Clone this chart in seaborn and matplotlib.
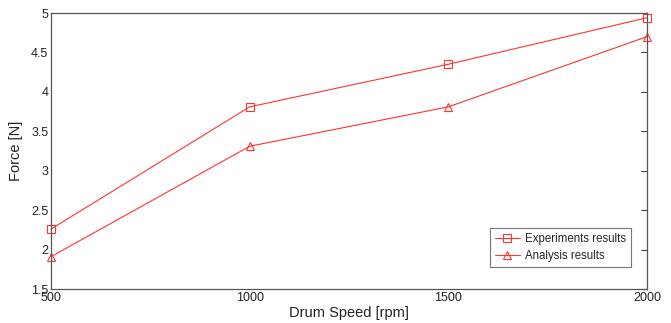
import matplotlib
matplotlib.use("Agg")
import matplotlib.pyplot as plt
import seaborn as sns
import pandas as pd

speed = [500, 1000, 1500, 2000]
experiments = [2.26, 3.81, 4.35, 4.94]
analysis = [1.91, 3.31, 3.81, 4.70]
xticks = [500, 1000, 1500, 2000]
yticks = [1.5, 2, 2.5, 3, 3.5, 4, 4.5, 5]

sns.set_style("white")
plt.rcParams['font.family'] = ['Liberation Sans', 'DejaVu Sans']

df = pd.concat([
    pd.DataFrame({"speed": speed, "force": experiments, "series": "Experiments results"}),
    pd.DataFrame({"speed": speed, "force": analysis, "series": "Analysis results"}),
])

fig = plt.figure(figsize=(6.71, 3.23), dpi=100)
ax = fig.add_axes([51/671, 1-289/323, (647-51)/671, (289-13)/323])

red = "#ff3333"
sns.lineplot(data=df, x="speed", y="force", hue="series", style="series",
             markers={"Experiments results": "s", "Analysis results": "^"},
             dashes=False, palette={"Experiments results": red, "Analysis results": red},
             linewidth=0.8, markersize=6, markerfacecolor="none",
             markeredgecolor=red, markeredgewidth=0.8, ax=ax)
for ln in ax.lines:
    ln.set_clip_on(False)

ax.set_xlim(500, 2000)
ax.set_ylim(1.5, 5)
ax.set_xticks(xticks)
ax.set_xticklabels([str(t) for t in xticks])
ax.set_yticks(yticks)
ax.set_yticklabels([f"{t:g}" for t in yticks])
ax.tick_params(direction="in", length=4, width=0.8, colors="#444444",
               labelsize=9, labelcolor="#222222", right=True, top=False)
ax.tick_params(axis="x", pad=2)
ax.tick_params(axis="y", pad=2)
for s in ax.spines.values():
    s.set_color("#555555")
    s.set_linewidth(0.9)
ax.set_xlabel("Drum Speed [rpm]", fontsize=10.5, color="#222222")
ax.xaxis.set_label_coords(0.5, -0.06, transform=ax.transAxes)
ax.xaxis.label.set_verticalalignment("top")
ax.set_ylabel("Force [N]", fontsize=10.5, color="#222222", labelpad=6)

leg = ax.legend(loc="lower right", bbox_to_anchor=(0.973, 0.08), borderaxespad=0,
                fontsize=8.3, frameon=True, fancybox=False, edgecolor="#555555",
                borderpad=0.45, labelspacing=0.4, handlelength=2.2, handletextpad=0.4)
leg.get_frame().set_linewidth(0.8)
for h in leg.legend_handles:
    h.set_markerfacecolor("none")
    h.set_markeredgecolor(red)

fig.savefig("out.png", dpi=100)
